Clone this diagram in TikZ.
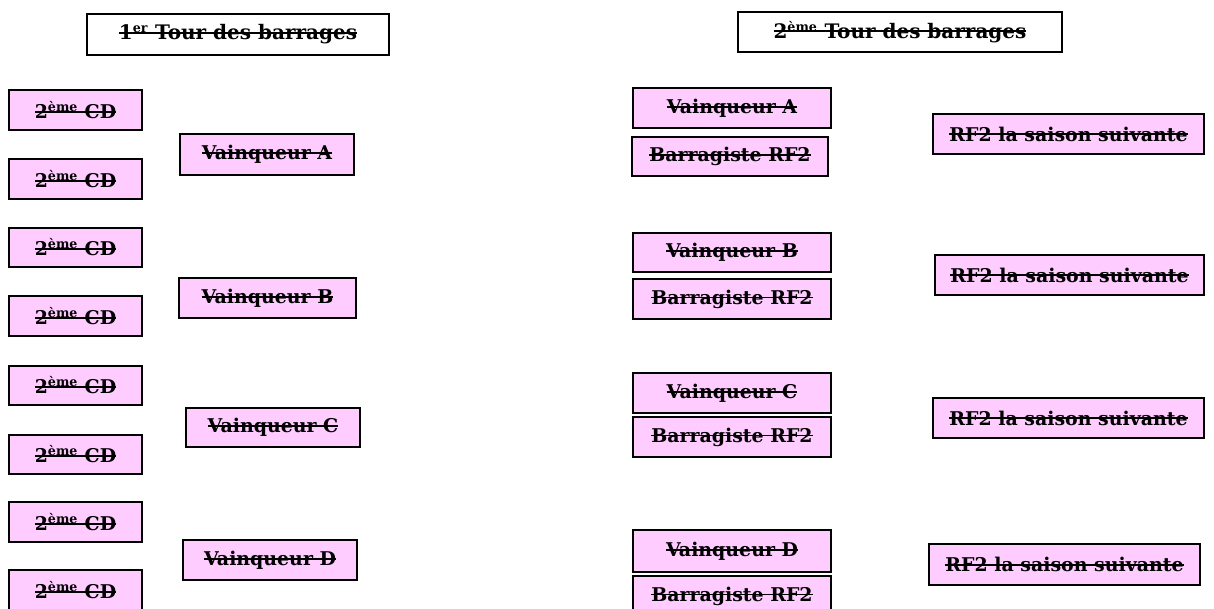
\documentclass[tikz,border=0pt]{standalone}
\usepackage{fontspec}
\setmainfont{DejaVu Serif}
\definecolor{boxpink}{HTML}{FFCCFF}
\newcommand\stk[1]{\setbox0\hbox{#1}\rlap{\rule[0.3em]{\wd0}{0.1em}}\box0}
\newcommand\supx[1]{\textsuperscript{\fontsize{9.5pt}{9.5pt}\selectfont #1}}
\tikzset{
  pinkbox/.style={draw=black, line width=1.8pt, fill=boxpink, inner sep=0pt,
    font=\fontsize{14.2pt}{16pt}\selectfont\bfseries},
  titlebox/.style={draw=black, line width=1.8pt, fill=white, inner sep=0pt,
    font=\fontsize{15pt}{17pt}\selectfont\bfseries},
}
% #1 style, #2 x1, #3 y1, #4 x2, #5 y2 (px, y down), #6 name, #7 text
\newcommand\bx[7]{%
  \pgfmathsetmacro\bw{(#4-#2)*0.75}\pgfmathsetmacro\bh{(#5-#3)*0.75}%
  \node[#1, minimum width=\bw pt, minimum height=\bh pt]
    (#6) at ({(#2+#4)/2},{(#3+#5)/2}) {\stk{#7}};}
\begin{document}
\begin{tikzpicture}[x=0.75pt, y=-0.75pt]
\useasboundingbox (0,0) rectangle (1214,609);
% titles
\bx{titlebox}{87}{14}{389}{55}{t1}{1\supx{er} Tour des barrages}
\bx{titlebox}{738}{12}{1062}{52}{t2}{2\supx{ème} Tour des barrages}
% first round
\bx{pinkbox}{9}{90}{142}{130}{cd1}{2\supx{ème} CD}
\bx{pinkbox}{9}{159}{142}{199}{cd2}{2\supx{ème} CD}
\bx{pinkbox}{9}{228}{142}{267}{cd3}{2\supx{ème} CD}
\bx{pinkbox}{9}{296}{142}{336}{cd4}{2\supx{ème} CD}
\bx{pinkbox}{9}{366}{142}{405}{cd5}{2\supx{ème} CD}
\bx{pinkbox}{9}{435}{142}{474}{cd6}{2\supx{ème} CD}
\bx{pinkbox}{9}{502}{142}{542}{cd7}{2\supx{ème} CD}
\bx{pinkbox}{9}{570}{142}{610}{cd8}{2\supx{ème} CD}
\bx{pinkbox}{180}{134}{354}{175}{va1}{Vainqueur A}
\bx{pinkbox}{179}{278}{356}{318}{vb1}{Vainqueur B}
\bx{pinkbox}{186}{408}{360}{447}{vc1}{Vainqueur C}
\bx{pinkbox}{183}{540}{357}{580}{vd1}{Vainqueur D}
% second round
\bx{pinkbox}{633}{88}{831}{128}{va2}{Vainqueur A}
\bx{pinkbox}{632}{137}{828}{176}{ba2}{Barragiste RF2}
\bx{pinkbox}{633}{233}{831}{272}{vb2}{Vainqueur B}
\bx{pinkbox}{633}{279}{831}{319}{bb2}{Barragiste RF2}
\bx{pinkbox}{633}{373}{831}{413}{vc2}{Vainqueur C}
\bx{pinkbox}{633}{417}{831}{457}{bc2}{Barragiste RF2}
\bx{pinkbox}{633}{530}{831}{572}{vd2}{Vainqueur D}
\bx{pinkbox}{633}{576}{831}{616}{bd2}{Barragiste RF2}
% results
\bx{pinkbox}{933}{114}{1204}{154}{ra}{RF2 la saison suivante}
\bx{pinkbox}{935}{255}{1204}{295}{rb}{RF2 la saison suivante}
\bx{pinkbox}{933}{398}{1204}{438}{rc}{RF2 la saison suivante}
\bx{pinkbox}{929}{544}{1200}{585}{rd}{RF2 la saison suivante}
\end{tikzpicture}
\end{document}
